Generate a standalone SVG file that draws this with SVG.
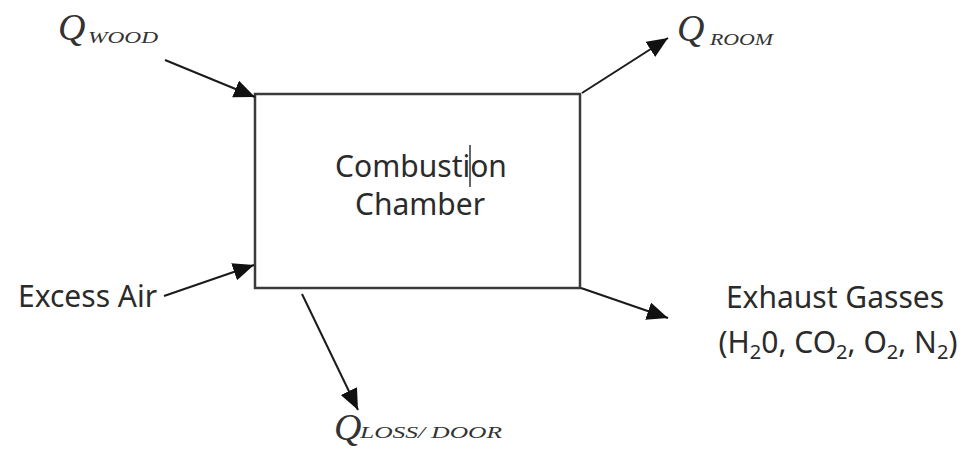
<svg xmlns="http://www.w3.org/2000/svg" width="969" height="461" viewBox="0 0 969 461">
<style>
.lbl{font-family:"Noto Sans","Open Sans",sans-serif;font-size:30px;fill:#2b2b2b}
.q{font-family:"Liberation Serif","DejaVu Serif",serif;font-style:italic;fill:#333}
.qb{font-size:38px}
.qs{font-size:16px}
.conn{stroke:#1a1a1a;stroke-width:2;fill:none;marker-end:url(#ah)}
.box{fill:#fff;stroke:#3a3a3a;stroke-width:2.5}
</style>
<defs>
<marker id="ah" markerUnits="userSpaceOnUse" markerWidth="24" markerHeight="20" refX="21" refY="9" orient="auto">
<path d="M0,0 L21,9 L0,18 Z" fill="#111"/>
</marker>
</defs>
<rect width="969" height="461" fill="#fff"/>
<g id="chamber">
<rect class="box" x="255" y="94" width="325" height="194"/>
<text class="lbl" x="421" y="177" text-anchor="middle">Combustion</text>
<text class="lbl" x="420" y="215" text-anchor="middle">Chamber</text>
<line x1="470" y1="145" x2="470" y2="187" stroke="#333" stroke-width="1.5"/>
</g>
<g id="qwood">
<text class="q" x="58" y="40"><tspan class="qb">Q</tspan></text>
<text class="q qs" x="88" y="43" textLength="70" lengthAdjust="spacingAndGlyphs">WOOD</text>
</g>
<g id="qroom">
<text class="q" x="677" y="41"><tspan class="qb">Q</tspan></text>
<text class="q qs" x="710" y="45" textLength="63" lengthAdjust="spacingAndGlyphs">ROOM</text>
</g>
<g id="excessair">
<text class="lbl" x="18" y="307">Excess Air</text>
</g>
<g id="exhaust">
<text class="lbl" x="835" y="308" text-anchor="middle">Exhaust Gasses</text>
<text class="lbl" x="838" y="353" text-anchor="middle">(H<tspan font-size="20" dy="6">2</tspan><tspan dy="-6">0, CO</tspan><tspan font-size="20" dy="6">2</tspan><tspan dy="-6">, O</tspan><tspan font-size="20" dy="6">2</tspan><tspan dy="-6">, N</tspan><tspan font-size="20" dy="6">2</tspan><tspan dy="-6">)</tspan></text>
</g>
<g id="qloss">
<text class="q" x="334" y="440"><tspan class="qb">Q</tspan></text>
<text class="q qs" x="360" y="438" textLength="142" lengthAdjust="spacingAndGlyphs">LOSS/ DOOR</text>
</g>
<g id="connectors">
<line class="conn" x1="165" y1="60" x2="255" y2="97"/>
<line class="conn" x1="582" y1="93" x2="668" y2="38"/>
<line class="conn" x1="164" y1="296" x2="254" y2="265"/>
<line class="conn" x1="302" y1="294" x2="358" y2="410"/>
<line class="conn" x1="581" y1="288" x2="668" y2="318"/>
</g>
</svg>
